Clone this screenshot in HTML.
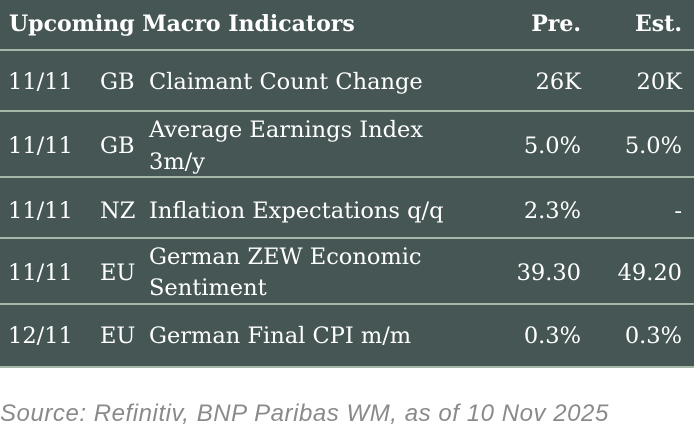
<!DOCTYPE html>
<html><head><meta charset="utf-8"><style>
body{margin:0;width:694px;height:439px;background:#fff;position:relative;overflow:hidden;font-family:"DejaVu Serif","Liberation Serif",serif;}
.tbl{position:absolute;left:0;top:0;width:694px;height:367px;background:#455654;}
.ln{position:absolute;left:0;width:694px;height:2px;background:#a3b8a8;}
.t{position:absolute;color:#fff;font-size:22.5px;white-space:nowrap;line-height:28px;}
.h{font-weight:bold;font-size:22px;}
.r{text-align:right;}
.src{position:absolute;left:0;top:400px;font-family:"Liberation Sans",sans-serif;font-style:italic;font-size:24px;color:#8a8a8a;letter-spacing:0.55px;}
</style></head><body>
<div class="tbl"></div>
<div class="ln" style="top:49px"></div>
<div class="ln" style="top:110px"></div>
<div class="ln" style="top:176px"></div>
<div class="ln" style="top:237px"></div>
<div class="ln" style="top:303px"></div>
<div class="ln" style="top:366px"></div>

<div class="t h" style="left:9px;top:10px">Upcoming Macro Indicators</div>
<div class="t h r" style="right:113px;top:10px">Pre.</div>
<div class="t h r" style="right:12px;top:10px">Est.</div>

<div class="t" style="left:8px;top:68px">11/11</div>
<div class="t" style="left:100px;top:68px">GB</div>
<div class="t" style="left:149px;top:68px">Claimant Count Change</div>
<div class="t r" style="right:113px;top:68px">26K</div>
<div class="t r" style="right:12px;top:68px">20K</div>

<div class="t" style="left:8px;top:132px">11/11</div>
<div class="t" style="left:100px;top:132px">GB</div>
<div class="t" style="left:149px;top:116px">Average Earnings Index</div>
<div class="t" style="left:149px;top:148px">3m/y</div>
<div class="t r" style="right:113px;top:132px">5.0%</div>
<div class="t r" style="right:12px;top:132px">5.0%</div>

<div class="t" style="left:8px;top:197px">11/11</div>
<div class="t" style="left:100px;top:197px">NZ</div>
<div class="t" style="left:149px;top:197px">Inflation Expectations q/q</div>
<div class="t r" style="right:113px;top:197px">2.3%</div>
<div class="t r" style="right:12px;top:197px">-</div>

<div class="t" style="left:8px;top:259px">11/11</div>
<div class="t" style="left:100px;top:259px">EU</div>
<div class="t" style="left:149px;top:243px">German ZEW Economic</div>
<div class="t" style="left:149px;top:274px">Sentiment</div>
<div class="t r" style="right:113px;top:259px">39.30</div>
<div class="t r" style="right:12px;top:259px">49.20</div>

<div class="t" style="left:8px;top:322px">12/11</div>
<div class="t" style="left:100px;top:322px">EU</div>
<div class="t" style="left:149px;top:322px">German Final CPI m/m</div>
<div class="t r" style="right:113px;top:322px">0.3%</div>
<div class="t r" style="right:12px;top:322px">0.3%</div>

<div class="src">Source: Refinitiv, BNP Paribas WM, as of 10 Nov 2025</div>
</body></html>
